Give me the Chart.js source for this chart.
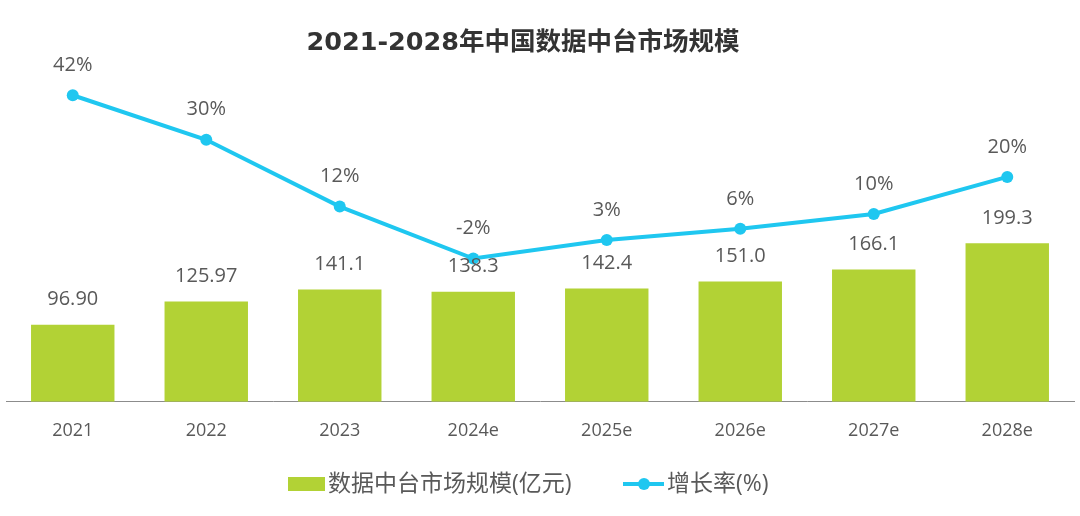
<!DOCTYPE html>
<html><head><meta charset="utf-8">
<script src="https://cdn.jsdelivr.net/npm/chart.js@4.4.0/dist/chart.umd.min.js"></script>
<style>html,body{margin:0;padding:0;background:#fff;}#wrap{width:1080px;height:516px;}</style>
</head><body><div id="wrap"><canvas id="c" width="1080" height="516"></canvas></div>
<script>
const categories = ['2021','2022','2023','2024e','2025e','2026e','2027e','2028e'];
const marketSize = [96.90,125.97,141.1,138.3,142.4,151.0,166.1,199.3];
const marketLabels = ['96.90','125.97','141.1','138.3','142.4','151.0','166.1','199.3'];
const growthRate = [42,30,12,-2,3,6,10,20];
const growthLabels = ['42%','30%','12%','-2%','3%','6%','10%','20%'];
const barName = '数据中台市场规模(亿元)';
const lineName = '增长率(%)';
const titleText = '2021-2028年中国数据中台市场规模';

const BAR_COLOR = '#B2D235';
const LINE_COLOR = '#1FC7F0';
const TEXT_COLOR = '#595959';
const FONT = "'Open Sans','Noto Sans CJK SC',sans-serif";

const LINE_IDX = 0, BAR_IDX = 1;

const titlePlugin = {
  id: 'customTitle',
  afterDraw(chart) {
    const ctx = chart.ctx;
    ctx.save();
    ctx.font = "bold 25.5px 'DejaVu Sans','Noto Sans CJK SC',sans-serif";
    ctx.fillStyle = '#333333';
    ctx.textAlign = 'center';
    ctx.textBaseline = 'middle';
    ctx.fillText(titleText, 523, 43);
    ctx.restore();
  }
};

const labelPlugin = {
  id: 'valueLabels',
  afterDatasetsDraw(chart) {
    const ctx = chart.ctx;
    ctx.save();
    ctx.font = '20px ' + FONT;
    ctx.fillStyle = TEXT_COLOR;
    ctx.textAlign = 'center';
    ctx.textBaseline = 'middle';
    chart.getDatasetMeta(BAR_IDX).data.forEach((el, i) => {
      ctx.fillText(marketLabels[i], el.x, el.y - 25);
    });
    chart.getDatasetMeta(LINE_IDX).data.forEach((el, i) => {
      ctx.fillText(growthLabels[i], el.x, el.y - 30);
    });
    ctx.restore();
  }
};

const legendPlugin = {
  id: 'customLegend',
  afterDraw(chart) {
    const ctx = chart.ctx;
    ctx.save();
    const y = 484;
    ctx.font = '23px ' + FONT;
    ctx.textBaseline = 'middle';
    ctx.textAlign = 'left';
    ctx.fillStyle = BAR_COLOR;
    ctx.fillRect(288, y - 7, 37, 14);
    ctx.fillStyle = TEXT_COLOR;
    ctx.fillText(chart.data.datasets[BAR_IDX].label, 328, y);
    ctx.strokeStyle = LINE_COLOR;
    ctx.lineWidth = 4;
    ctx.beginPath();
    ctx.moveTo(623, y); ctx.lineTo(664, y);
    ctx.stroke();
    ctx.fillStyle = LINE_COLOR;
    ctx.beginPath();
    ctx.arc(644, y, 6, 0, Math.PI * 2);
    ctx.fill();
    ctx.fillStyle = TEXT_COLOR;
    ctx.fillText(chart.data.datasets[LINE_IDX].label, 667, y);
    ctx.restore();
  }
};

new Chart(document.getElementById('c'), {
  data: {
    labels: categories,
    datasets: [
      {
        type: 'line', label: lineName, data: growthRate, yAxisID: 'y1',
        borderColor: LINE_COLOR, backgroundColor: LINE_COLOR, borderWidth: 4,
        pointRadius: 6, pointBackgroundColor: LINE_COLOR, pointBorderWidth: 0,
        tension: 0, clip: false, order: 0
      },
      {
        type: 'bar', label: barName, data: marketSize, yAxisID: 'y',
        backgroundColor: BAR_COLOR, categoryPercentage: 1, barPercentage: 0.625, order: 1
      }
    ]
  },
  options: {
    responsive: false,
    animation: false,
    layout: { padding: { left: 5, right: 2, top: 70, bottom: 56.6 } },
    plugins: {
      legend: { display: false },
      tooltip: { enabled: false },
      title: { display: false }
    },
    scales: {
      x: {
        grid: { display: false, drawTicks: false },
        border: { display: true, color: '#8c8c8c', width: 1 },
        ticks: { color: TEXT_COLOR, font: { family: FONT, size: 18 }, padding: 18 }
      },
      y: { display: false, min: 0, max: 416.9 },
      y1: { display: false, min: -40.6, max: 48.8, position: 'right' }
    }
  },
  plugins: [labelPlugin, legendPlugin, titlePlugin]
});
</script>
</body></html>
